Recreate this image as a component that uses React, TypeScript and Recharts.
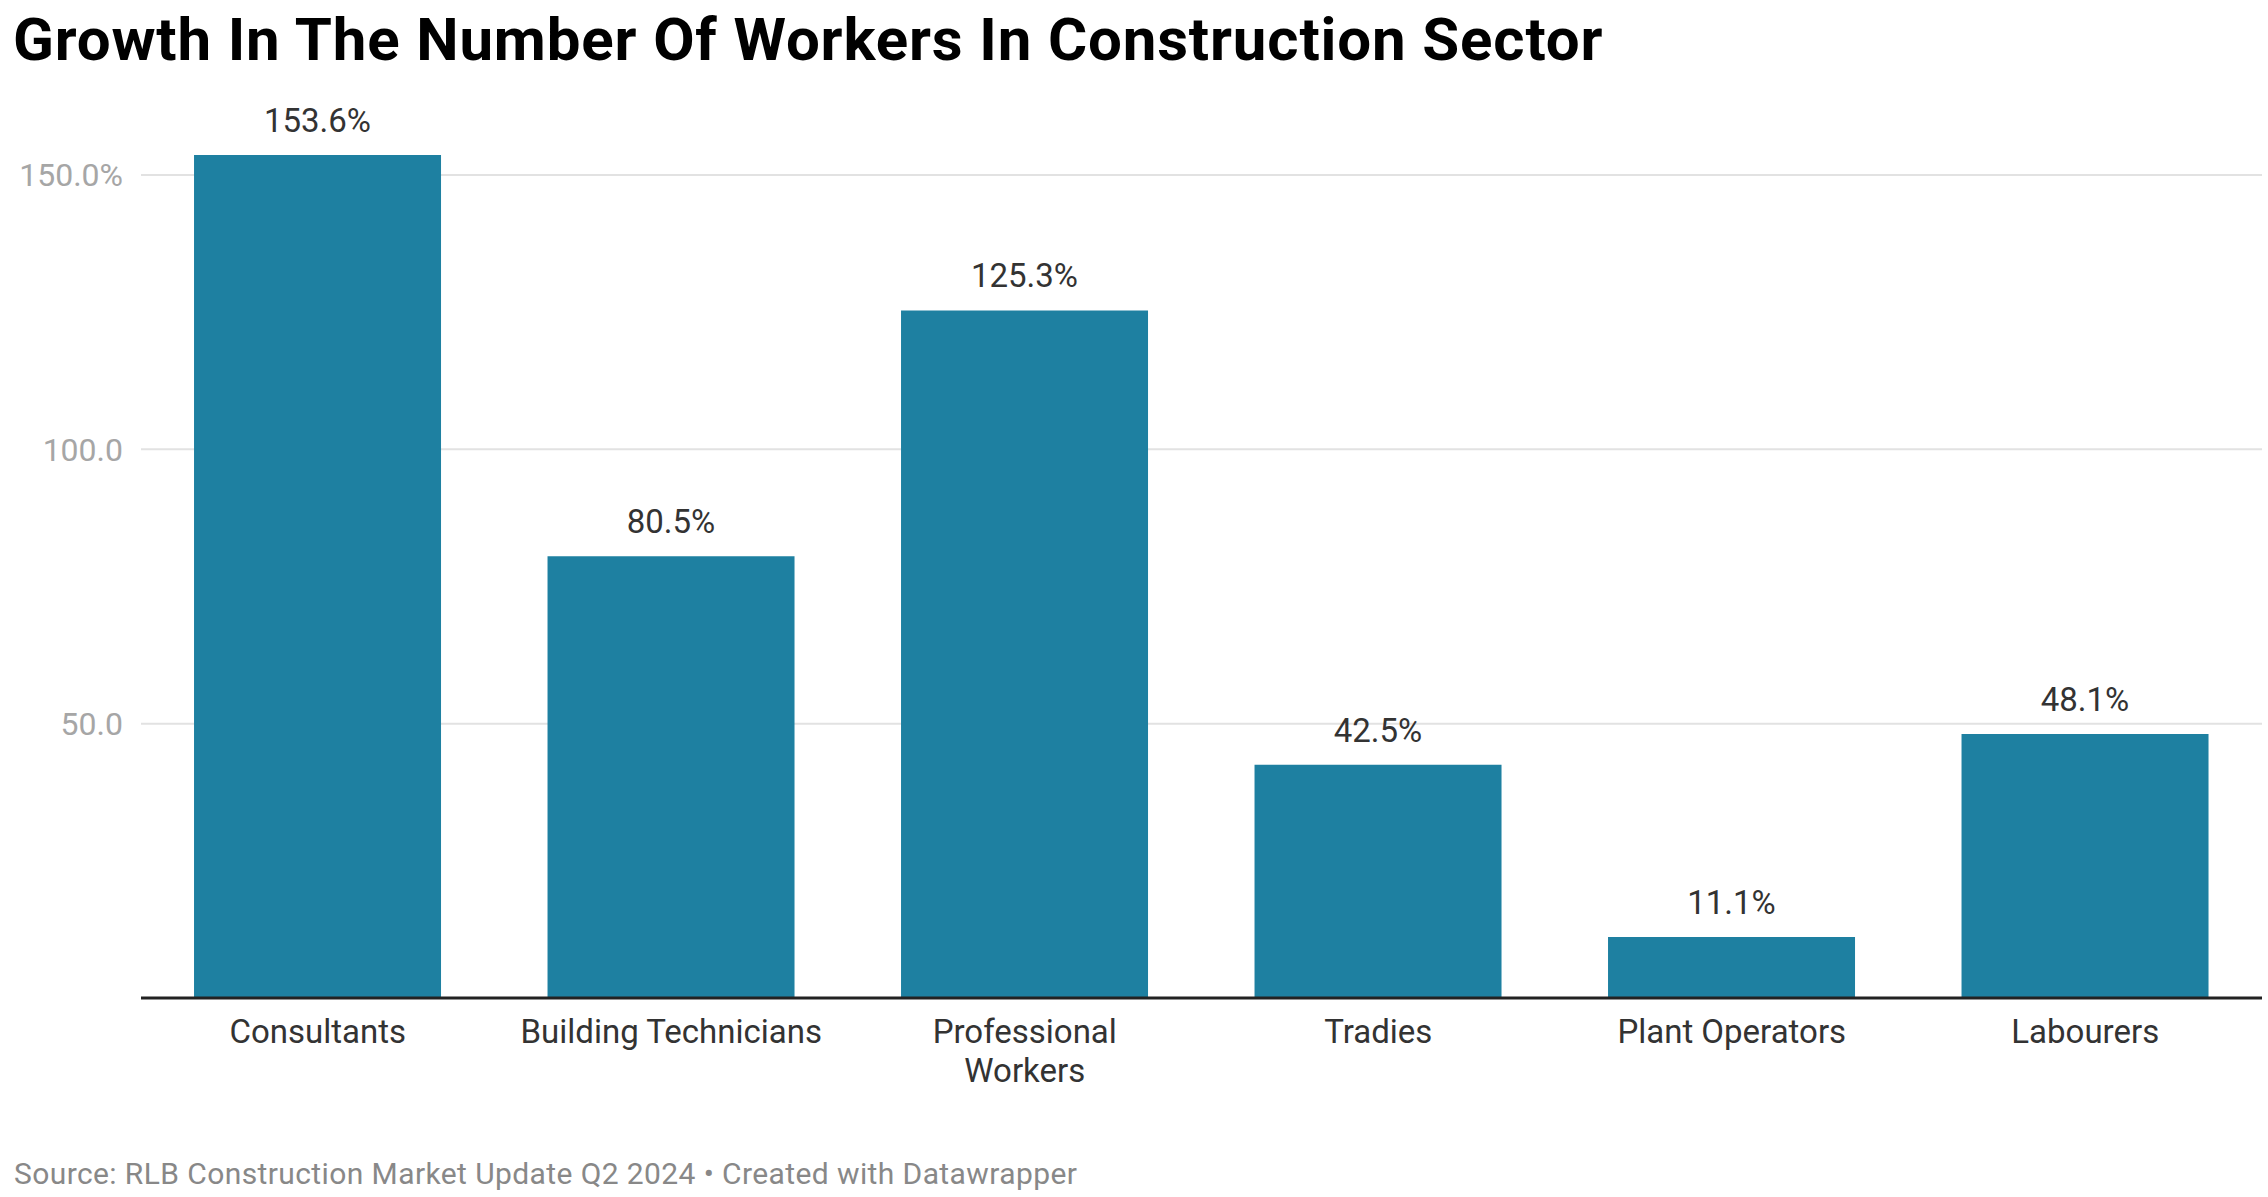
import { BarChart, Bar, XAxis, YAxis, CartesianGrid, LabelList } from "recharts";

const categories = [
  "Consultants",
  "Building Technicians",
  "Professional\nWorkers",
  "Tradies",
  "Plant Operators",
  "Labourers",
];
const growth = [153.6, 80.5, 125.3, 42.5, 11.1, 48.1];
const yTicks = [50, 100, 150];
const yMax = 160;

const data = categories.map((name, i) => ({ name, value: growth[i] }));

const FONT = "Roboto, 'Noto Sans', sans-serif";

function XTick(props: any) {
  const { x, y, payload } = props;
  const lines = String(payload.value).split("\n");
  return (
    <text
      x={x}
      y={y}
      textAnchor="middle"
      fill="#333"
      fontSize={33}
      fontFamily={FONT}
    >
      {lines.map((line, i) => (
        <tspan key={i} x={x} dy={i === 0 ? 45 : 39}>
          {line}
        </tspan>
      ))}
    </text>
  );
}

// grid lines only at the y ticks
const gridLines = ({ yAxis, offset }: any) =>
  yTicks.map((t) =>
    yAxis && typeof yAxis.scale === "function"
      ? yAxis.scale(t)
      : offset.top + offset.height * (1 - t / yMax)
  );

export default function App() {
  return (
    <div
      style={{
        position: "absolute",
        left: 0,
        top: 0,
        width: 2268,
        height: 1197,
        background: "#fff",
        fontFamily: FONT,
      }}
    >
      <div
        style={{
          position: "absolute",
          left: 13,
          top: 10,
          fontSize: 60,
          lineHeight: "60px",
          fontWeight: 700,
          letterSpacing: 0.85,
          color: "#000",
          whiteSpace: "nowrap",
        }}
      >
        Growth In The Number Of Workers In Construction Sector
      </div>

      <div style={{ position: "absolute", left: 0, top: 0 }}>
        <BarChart
          width={2268}
          height={1197}
          data={data}
          margin={{ top: 120, right: 6, bottom: 139, left: 0 }}
          barCategoryGap="15%"
        >
          <CartesianGrid
            vertical={false}
            stroke="#e2e2e2"
            strokeWidth={2}
            horizontalCoordinatesGenerator={gridLines}
          />
          <YAxis
            width={141}
            domain={[0, yMax]}
            ticks={yTicks}
            axisLine={false}
            tickLine={false}
            tickSize={8}
            tickMargin={10}
            tickFormatter={(v: number) => (v === 150 ? "150.0%" : v.toFixed(1))}
            tick={{ fill: "#a6a6a6", fontSize: 32, fontFamily: FONT }}
          />
          <XAxis
            dataKey="name"
            height={60}
            interval={0}
            tickLine={false}
            axisLine={{ stroke: "#222", strokeWidth: 3 }}
            tickSize={0}
            tickMargin={0}
            tick={<XTick />}
          />
          <Bar dataKey="value" fill="#1e80a1" isAnimationActive={false}>
            <LabelList
              dataKey="value"
              position="top"
              offset={23}
              formatter={(v: any) => `${Number(v).toFixed(1)}%`}
              fill="#333"
              fontSize={33}
              fontFamily={FONT}
            />
          </Bar>
        </BarChart>
      </div>

      <div
        style={{
          position: "absolute",
          left: 14,
          top: 1159,
          fontSize: 30,
          lineHeight: "30px",
          letterSpacing: 0.4,
          color: "#888",
          whiteSpace: "nowrap",
        }}
      >
        Source: RLB Construction Market Update Q2 2024 • Created with Datawrapper
      </div>
    </div>
  );
}
